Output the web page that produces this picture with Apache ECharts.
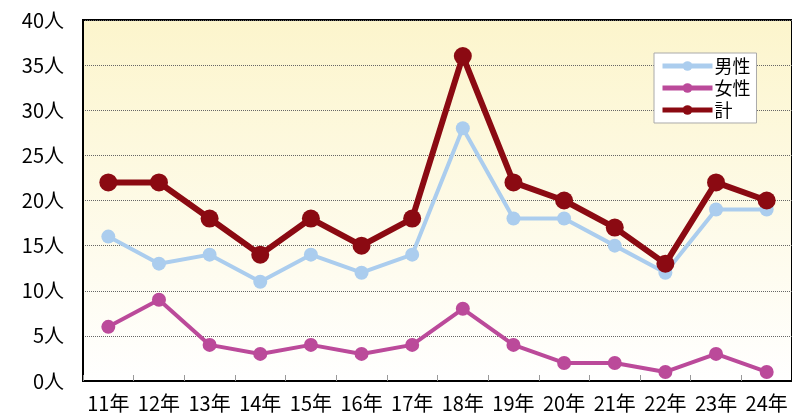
<!DOCTYPE html>
<html>
<head>
<meta charset="utf-8">
<script src="https://cdn.jsdelivr.net/npm/echarts@6/dist/echarts.min.js"></script>
<style>
  html, body { margin: 0; padding: 0; background: #fff; }
  #chart { width: 792px; height: 417px; }
</style>
</head>
<body>
<div id="chart"></div>
<script>
const years = ['11年','12年','13年','14年','15年','16年','17年','18年','19年','20年','21年','22年','23年','24年']
const male = [16,13,14,11,14,12,14,28,18,18,15,12,19,19]
const female = [6,9,4,3,4,3,4,8,4,2,2,1,3,1]
const total = [22,22,18,14,18,15,18,36,22,20,17,13,22,20]

const font = '"Noto Sans CJK JP", "Noto Sans", sans-serif'

const Chart = echarts.init(document.getElementById('chart'))
Chart.setOption({
  animation: false,
  textStyle: { fontFamily: font },
  grid: {
    left: 83, right: -3, top: 20, bottom: 36,
    show: true,
    borderColor: '#000',
    borderWidth: 2,
    backgroundColor: new echarts.graphic.LinearGradient(0, 0, 0, 1, [
      { offset: 0, color: '#fcf5cc' },
      { offset: 1, color: '#ffffff' }
    ])
  },
  legend: {
    orient: 'vertical',
    left: 654, top: 53,
    padding: [4, 6, 4, 6],
    itemGap: 4,
    itemWidth: 50,
    itemHeight: 12,
    backgroundColor: '#fff',
    borderColor: '#aaa',
    borderWidth: 1,
    lineStyle: { width: 5 },
    textStyle: { fontSize: 18, color: '#000', fontFamily: font, padding: [0, 0, 0, -3] },
    data: ['男性', '女性', '計']
  },
  xAxis: {
    type: 'category',
    data: years,
    boundaryGap: true,
    axisLine: { lineStyle: { color: '#000', width: 2 } },
    axisTick: { show: true, inside: true, length: 6, interval: 0, lineStyle: { color: '#999' } },
    axisLabel: { fontSize: 20, color: '#000', margin: 12, interval: 0 }
  },
  yAxis: {
    type: 'value',
    min: 0, max: 40, interval: 5,
    axisLine: { show: true, lineStyle: { color: '#000', width: 2 } },
    axisTick: { show: false },
    axisLabel: { fontSize: 20, color: '#000', margin: 19, formatter: '{value}人' },
    splitLine: { lineStyle: { color: '#666', width: 1, type: 'dotted' } }
  },
  series: [
    {
      name: '男性', type: 'line', data: male,
      symbol: 'circle', symbolSize: 14,
      lineStyle: { color: '#abcdee', width: 4 },
      itemStyle: { color: '#abcdee' }
    },
    {
      name: '女性', type: 'line', data: female,
      symbol: 'circle', symbolSize: 14,
      lineStyle: { color: '#bb4a9a', width: 4 },
      itemStyle: { color: '#bb4a9a' }
    },
    {
      name: '計', type: 'line', data: total,
      symbol: 'circle', symbolSize: 18,
      lineStyle: { color: '#8b0a12', width: 6 },
      itemStyle: { color: '#8b0a12' }
    }
  ]
})
</script>
</body>
</html>
